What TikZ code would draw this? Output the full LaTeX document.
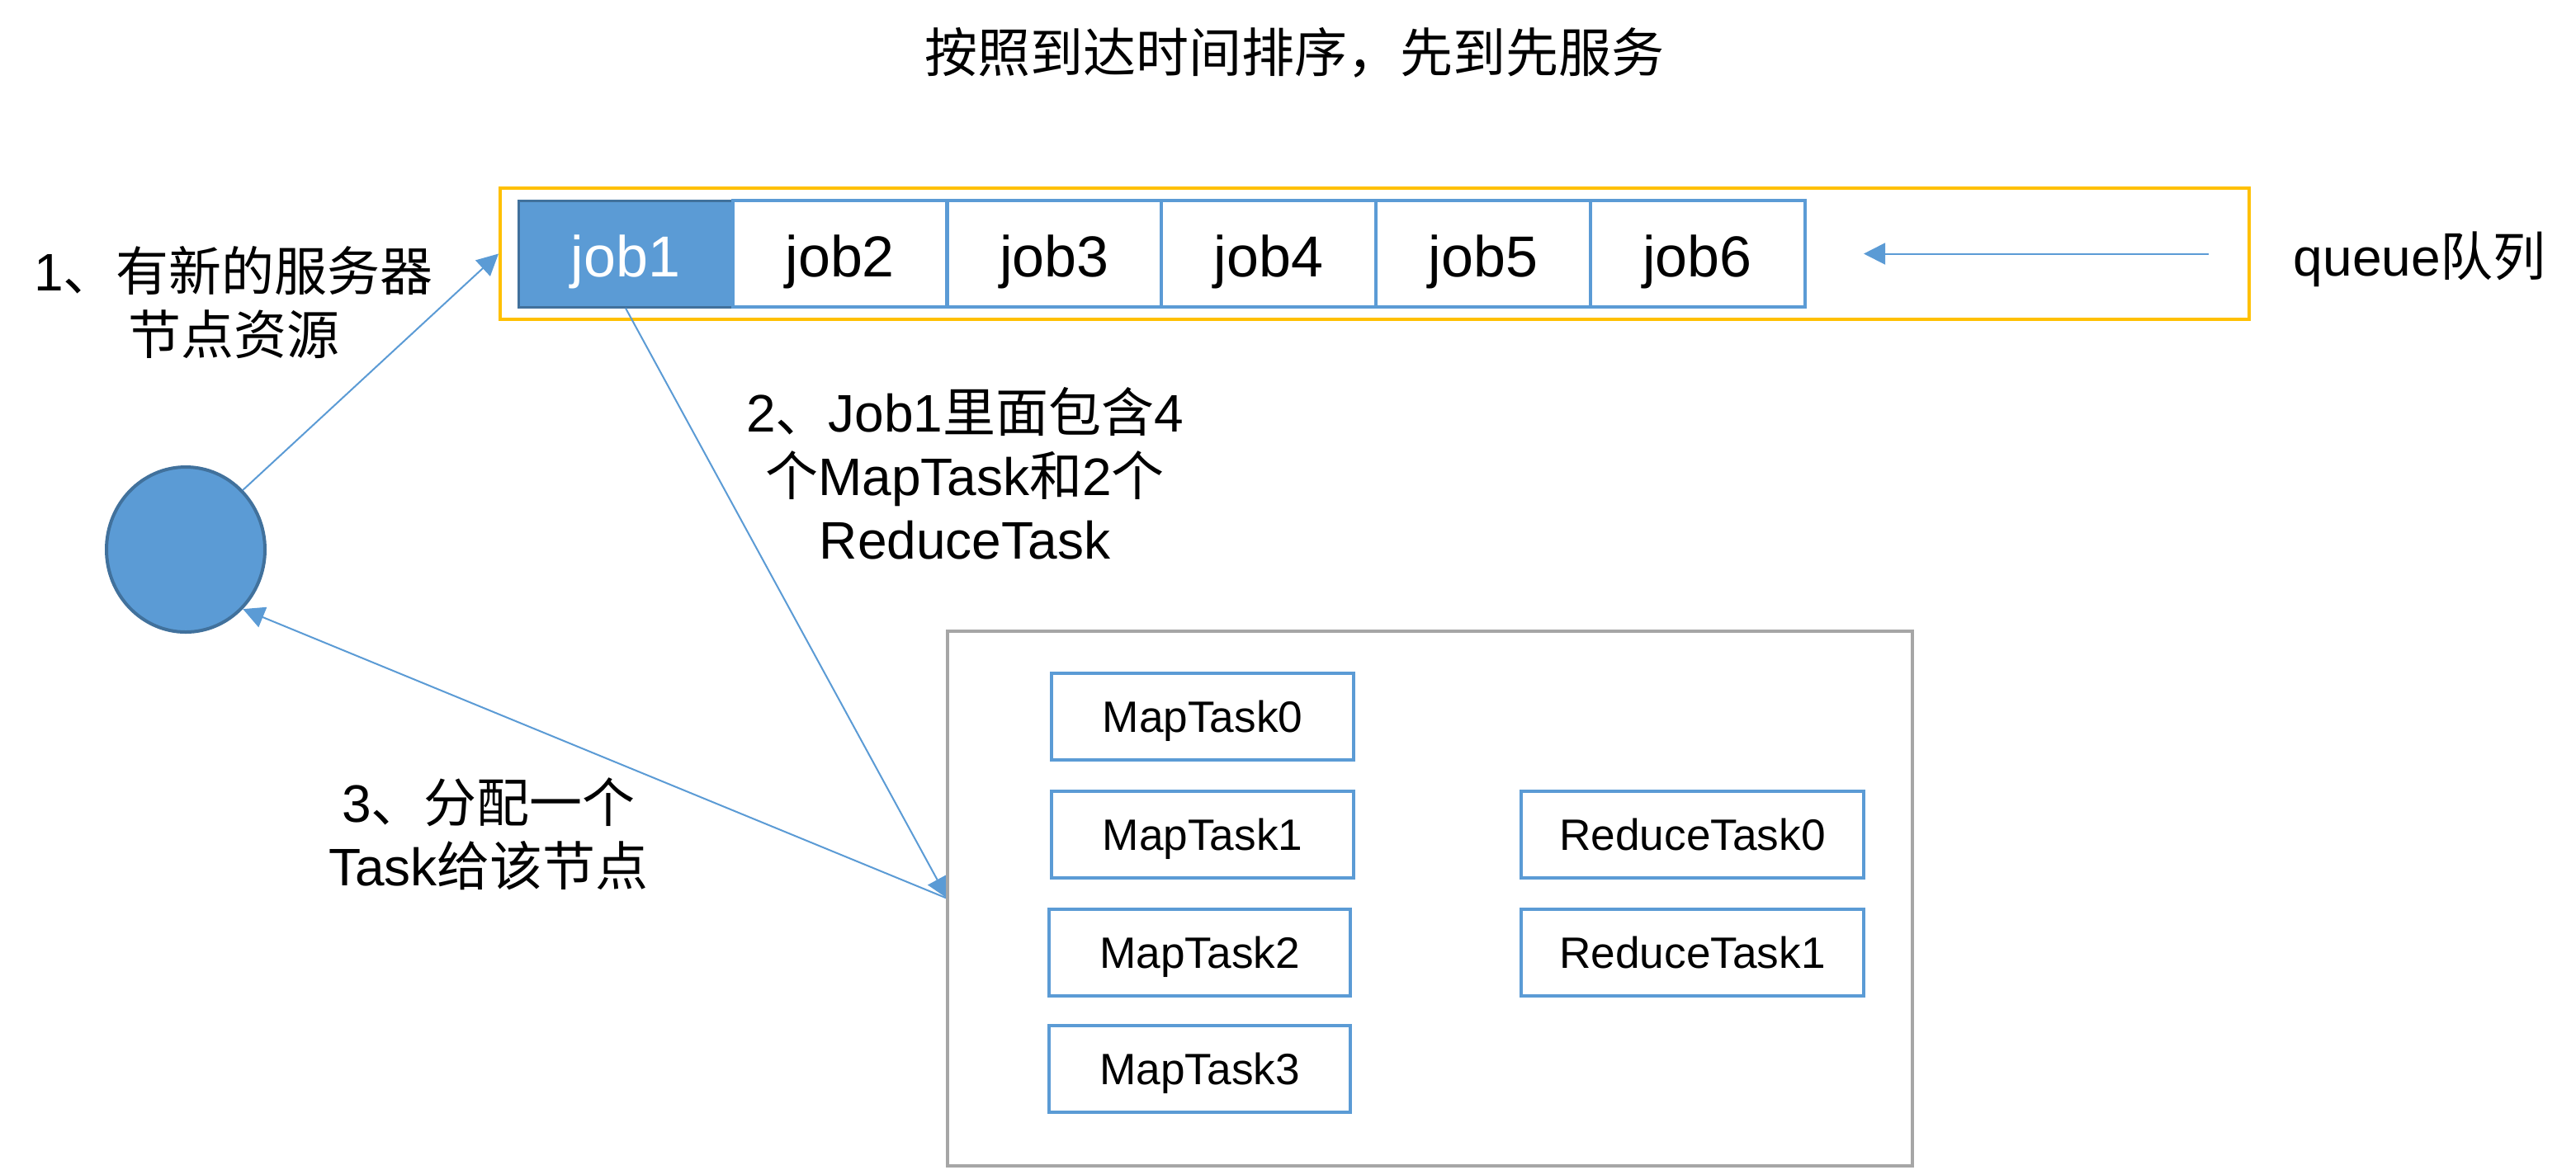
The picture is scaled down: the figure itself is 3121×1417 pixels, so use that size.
\documentclass[tikz,border=0pt]{standalone}
\usepackage{fontspec}
\setmainfont{Liberation Sans}
\newfontfamily\cjk{Noto Sans CJK SC}
\newcommand\zh[1]{{\cjk #1}}
\usetikzlibrary{arrows.meta,shapes.geometric}
\definecolor{accblue}{HTML}{5B9BD5}
\definecolor{darkblue}{HTML}{41719C}
\definecolor{gold}{HTML}{FFC000}
\definecolor{boxgray}{HTML}{A6A6A6}
\begin{document}
\begin{tikzpicture}[x=0.25pt,y=-0.25pt,
  lbl/.style={align=center,font=\fontsize{16pt}{19.25pt}\selectfont,inner sep=0},
  jobbox/.style={draw=accblue,line width=1pt,minimum width=65pt,minimum height=32.25pt,inner sep=0,text height=14pt,text depth=0pt,font=\fontsize{17.5pt}{21pt}\selectfont},
  taskbox/.style={draw=accblue,line width=1pt,minimum height=26.25pt,inner sep=0,text height=9.5pt,text depth=0pt,font=\fontsize{13.3pt}{16pt}\selectfont},
  conn/.style={draw=accblue,line width=0.5pt,-{Triangle[length=6.5pt,width=6.5pt]}}]
\fill[white] (0,0) rectangle (3121,1417);
\useasboundingbox (0,0) rectangle (3121,1417);

% title
\node[lbl] (title) at (1568,64) {\zh{按照到达时间排序，先到先服务}};

% queue frame
\node[draw=gold,line width=1pt,minimum width=529.75pt,minimum height=39.75pt,inner sep=0] (queue) at (1665.5,307.5) {};

% jobs
\node[jobbox,fill=accblue,draw=darkblue,line width=0.75pt,text=white] (job1) at (758,307.5) {job1};
\node[jobbox] (job2) at (1017.7,307.5) {job2};
\node[jobbox] (job3) at (1277.4,307.5) {job3};
\node[jobbox] (job4) at (1537.1,307.5) {job4};
\node[jobbox] (job5) at (1796.8,307.5) {job5};
\node[jobbox] (job6) at (2056.5,307.5) {job6};

% queue arrow and label
\coordinate (qs) at (2676,307.5);
\coordinate (qe) at (2258,307.5);
\draw[conn] (qs) -- (qe);
\node[lbl,anchor=base west] (qlabel) at (2778,334) {queue\zh{队列}};

% labels
\node[lbl] (l1) at (283,367) {1\zh{、有新的服务器}\\\zh{节点资源}};
\node[lbl] (l2) at (1169,574) {2\zh{、}Job1\zh{里面包含}4\\\zh{个}MapTask\zh{和}2\zh{个}\\ReduceTask};
\node[lbl] (l3) at (592,1011) {3\zh{、分配一个}\\Task\zh{给该节点}};

% server node
\node[ellipse,fill=accblue,draw=darkblue,line width=1pt,minimum width=48pt,minimum height=50pt,inner sep=0] (server) at (225,666) {};

% arrows
\coordinate (poolw) at (1148,1089);
\draw[conn] (server.north east) -- (queue.west);
\draw[conn] (job1.south) -- (poolw);
\draw[conn] (poolw) -- (server.south east);

% task pool
\node[draw=boxgray,line width=1pt,minimum width=292.25pt,minimum height=162pt,inner sep=0] (pool) at (1732.5,1089) {};

\node[taskbox,minimum width=91.5pt] (m0) at (1457,868.5) {MapTask0};
\node[taskbox,minimum width=91.5pt] (m1) at (1457,1011.5) {MapTask1};
\node[taskbox,minimum width=91.25pt] (m2) at (1453.5,1154.5) {MapTask2};
\node[taskbox,minimum width=91.25pt] (m3) at (1453.5,1295.5) {MapTask3};
\node[taskbox,minimum width=103.75pt] (r0) at (2050.5,1011.5) {ReduceTask0};
\node[taskbox,minimum width=103.75pt] (r1) at (2050.5,1154.5) {ReduceTask1};
\end{tikzpicture}
\end{document}
